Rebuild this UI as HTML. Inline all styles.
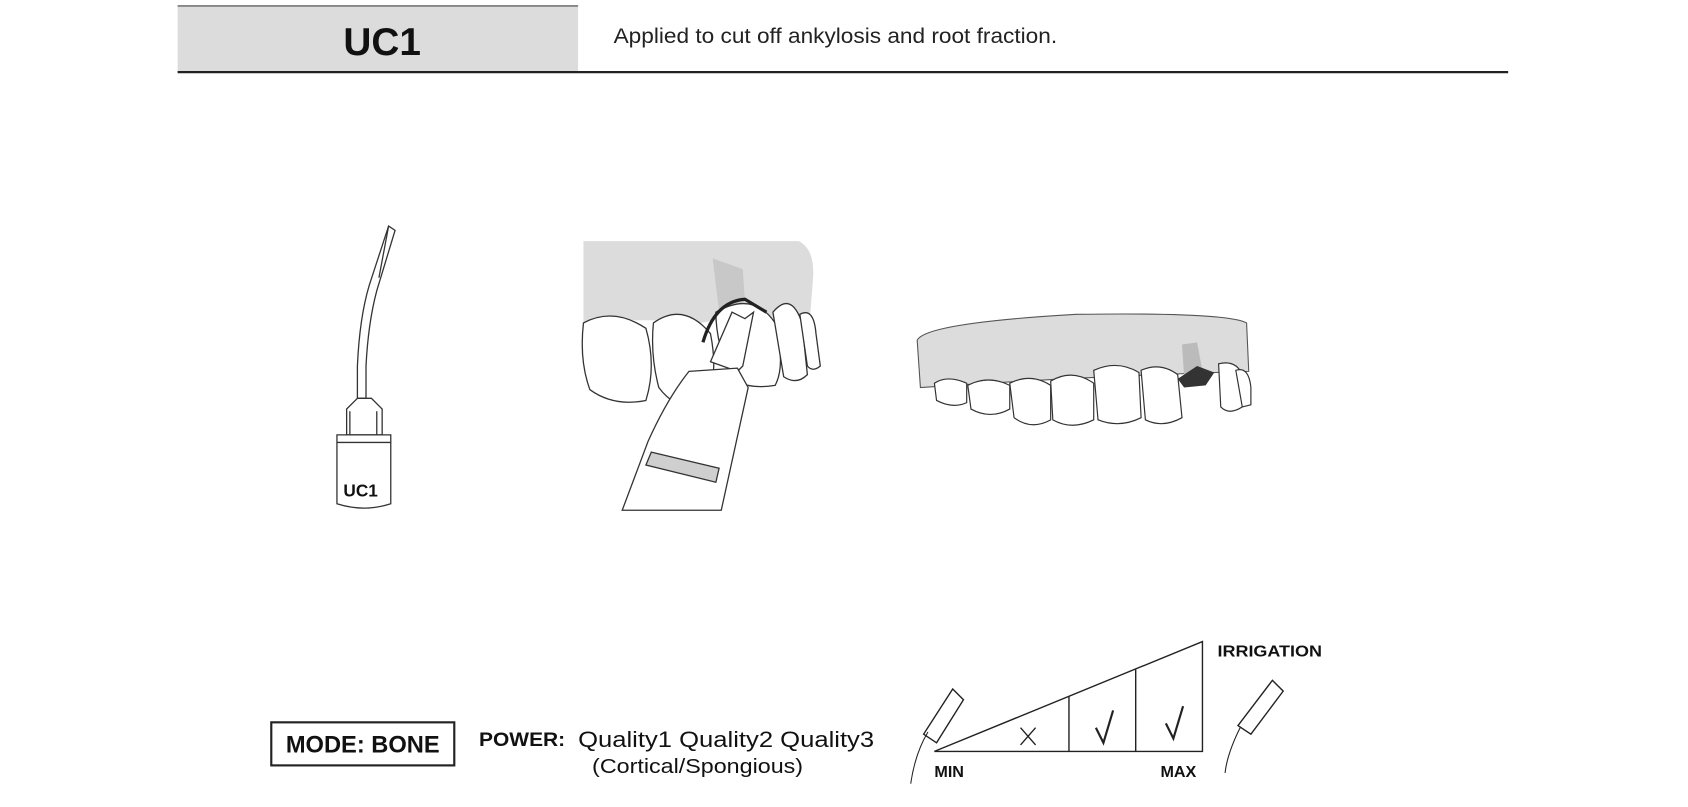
<!DOCTYPE html>
<html><head><meta charset="utf-8"><style>
html,body{margin:0;padding:0;background:#fff;width:1688px;height:807px;overflow:hidden}
#c{position:absolute;left:0;top:0;width:1568px;height:750px;transform:scale(1.0765);transform-origin:0 0}
svg{position:absolute;left:0;top:0}
</style></head><body><div id="c">
<svg width="1568" height="750" viewBox="0 0 1568 750" font-family="Liberation Sans, sans-serif">
<rect x="165" y="5" width="372" height="62" fill="#dcdcdc"/>
<line x1="165" y1="5.5" x2="537" y2="5.5" stroke="#444" stroke-width="1"/>
<line x1="165" y1="67" x2="1401" y2="67" stroke="#222" stroke-width="2"/>
<text x="355" y="51" font-size="36" font-weight="bold" text-anchor="middle" fill="#111">UC1</text>
<text x="570" y="40" font-size="20" fill="#222" textLength="412" lengthAdjust="spacingAndGlyphs">Applied to cut off ankylosis and root fraction.</text>

<!-- tip -->
<g fill="#fff" stroke="#333" stroke-width="1.2">
<path d="M361 210 L367 214 L350 270 Q342 300 340 340 L340 370 L332 370 L332 340 Q334 295 343 265 Z"/>
<path d="M361 210 L352 258" fill="none"/>
<path d="M332 370 L322 380 L322 404 L355 404 L355 380 L345 370 Z"/>
<line x1="325" y1="382" x2="325" y2="404"/><line x1="350" y1="382" x2="350" y2="404"/>
<path d="M313 404 L363 404 L363 468 Q338 476 313 468 Z"/>
<line x1="313" y1="411" x2="363" y2="411"/>
</g>
<text x="335" y="461" font-size="16" font-weight="bold" text-anchor="middle" fill="#111">UC1</text>

<!-- middle illustration -->
<path d="M542 224 L742 224 Q758 232 755 262 L752 300 Q700 290 650 300 Q600 295 542 300 Z" fill="#dcdcdc"/>
<path d="M662 240 L690 250 L692 280 L668 290 Z" fill="#c8c8c8"/>
<g fill="#fff" stroke="#333" stroke-width="1.2">
<path d="M542 300 Q570 285 600 305 Q610 340 600 372 Q570 378 548 362 Q538 335 542 300 Z"/>
<path d="M607 300 Q635 280 660 310 Q668 350 655 378 Q628 382 612 360 Q604 330 607 300 Z"/>
<path d="M665 290 Q700 270 720 300 Q730 340 720 358 Q695 362 680 352 Q665 320 665 290 Z"/>
<path d="M718 290 Q735 270 745 300 L750 348 Q740 358 728 350 Z"/>
<path d="M743 292 Q756 285 758 310 L762 340 Q755 346 750 340 Z"/>
<path d="M653 318 Q664 280 692 278 L712 290" fill="none" stroke="#222" stroke-width="3"/>
<path d="M660 336 L680 290 L692 296 L700 290 L690 340 L685 345 Z"/>
<path d="M640 345 L685 342 L695 360 L670 474 L578 474 L602 410 Q620 370 640 345 Z"/>
<path d="M605 420 L668 435 L665 448 L600 432 Z" fill="#cfcfcf"/>
</g>

<!-- arch -->
<path d="M852 316 Q860 300 1000 292 Q1140 290 1158 300 L1160 345 Q1000 350 855 360 Z" fill="#dcdcdc" stroke="#555" stroke-width="1"/>
<path d="M1098 320 L1112 318 L1118 350 L1100 350 Z" fill="#bbb"/>
<path d="M1094 352 L1112 340 L1128 346 L1120 358 L1100 360 Z" fill="#333"/>
<g fill="#fff" stroke="#333" stroke-width="1.1">
<path d="M868 356 Q880 348 898 356 L898 374 Q885 380 870 372 Z"/>
<path d="M899 358 Q918 348 938 358 L938 380 Q920 390 902 380 Z"/>
<path d="M938 356 Q958 346 976 358 L976 390 Q958 400 942 388 Z"/>
<path d="M976 354 Q996 342 1016 356 L1016 390 Q996 400 978 390 Z"/>
<path d="M1016 344 Q1038 334 1058 346 L1060 388 Q1040 398 1020 390 Z"/>
<path d="M1060 344 Q1078 336 1094 348 L1098 388 Q1080 398 1064 390 Z"/>
<path d="M1132 338 Q1148 334 1154 348 L1154 378 Q1142 386 1134 378 Z"/>
<path d="M1148 344 Q1160 340 1162 360 L1162 376 L1154 378 Z"/>
</g>

<!-- bottom -->
<rect x="252" y="671" width="170" height="40" fill="none" stroke="#222" stroke-width="2"/>
<text x="337" y="699" font-size="22" font-weight="bold" text-anchor="middle" fill="#111">MODE: BONE</text>
<text x="445" y="693" font-size="18" font-weight="bold" fill="#111" textLength="80" lengthAdjust="spacingAndGlyphs">POWER:</text>
<text x="537" y="694" font-size="21" fill="#111" textLength="275" lengthAdjust="spacingAndGlyphs">Quality1 Quality2 Quality3</text>
<text x="550" y="718" font-size="19" fill="#111" textLength="196" lengthAdjust="spacingAndGlyphs">(Cortical/Spongious)</text>
<g stroke="#222" stroke-width="1.3" fill="none">
<path d="M868 698 L1117 596 L1117 698 Z"/>
<line x1="993" y1="647" x2="993" y2="698"/>
<line x1="1055" y1="622" x2="1055" y2="698"/>
<path d="M948 676 L962 692 M962 676 L948 692"/>
<path d="M1018 676 L1025 690 L1034 660" stroke-width="2"/>
<path d="M1083 672 L1090 686 L1099 656" stroke-width="2"/>
<path d="M885 640 L895 650 L870 690 L858 682 Z"/>
<path d="M862 680 Q850 700 846 728" stroke-width="1"/>
<path d="M1182 632 L1192 642 L1162 682 L1150 674 Z"/>
<path d="M1152 676 Q1140 700 1138 718" stroke-width="1"/>
</g>
<text x="868" y="722" font-size="15" font-weight="bold" fill="#111">MIN</text>
<text x="1078" y="722" font-size="15" font-weight="bold" fill="#111">MAX</text>
<text x="1131" y="610" font-size="15" font-weight="bold" fill="#111" textLength="97" lengthAdjust="spacingAndGlyphs">IRRIGATION</text>
</svg></div></body></html>
